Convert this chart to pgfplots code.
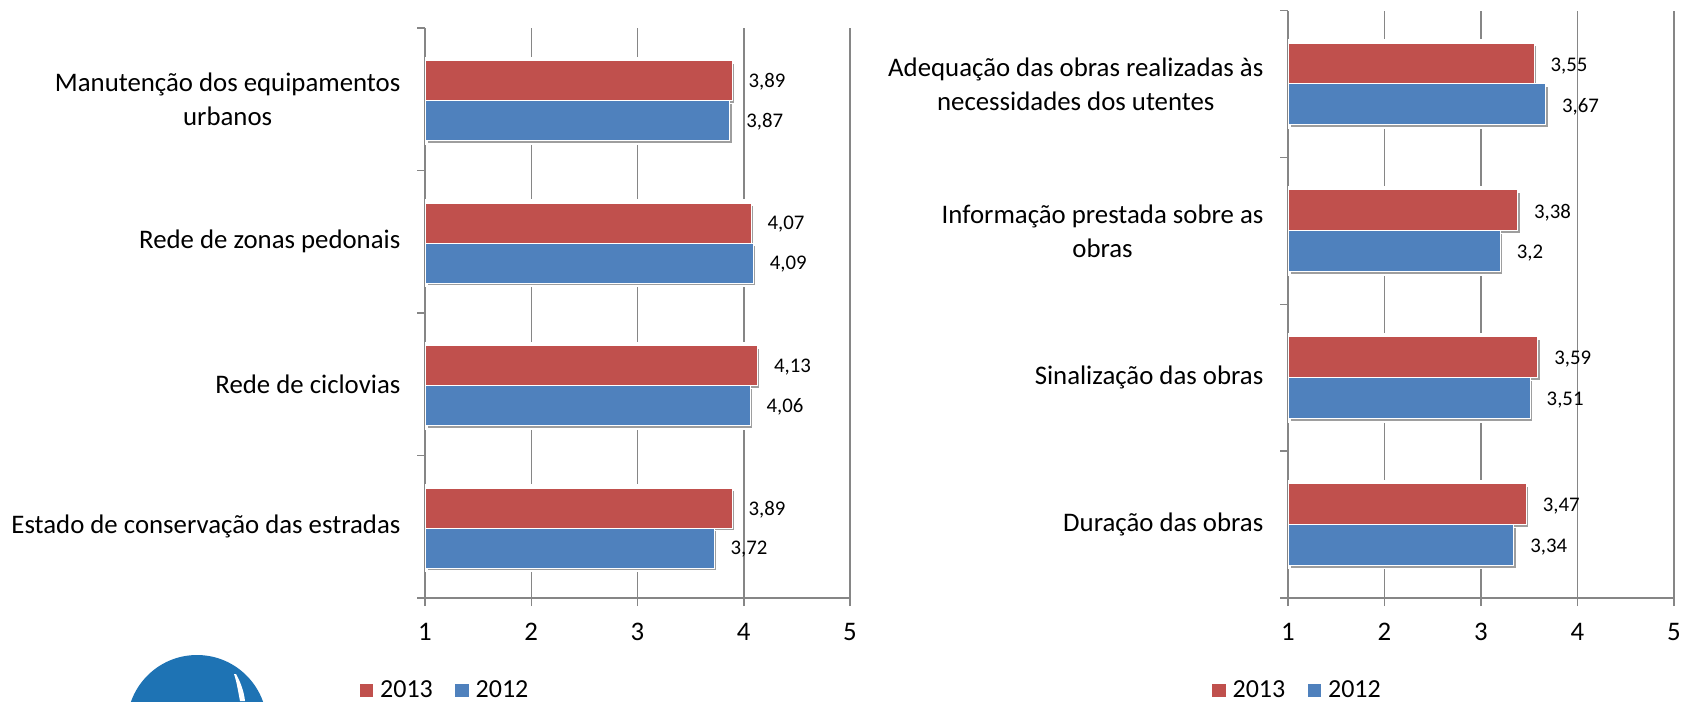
\documentclass[border=0pt]{standalone}
\usepackage{pgfplots}
\pgfplotsset{compat=1.18}
\usepackage{fontspec}
\setmainfont{Carlito}
\usetikzlibrary{shadows}
\definecolor{barred}{HTML}{C0504D}
\definecolor{barblue}{HTML}{4F81BD}
\definecolor{axgray}{HTML}{868686}
\pgfplotstableread{
pos y2013 y2012
0 3.89 3.72
1 4.13 4.06
2 4.07 4.09
3 3.89 3.87
}\lefttable
\pgfplotstableread{
pos y2013 y2012
0 3.47 3.34
1 3.59 3.51
2 3.38 3.2
3 3.55 3.67
}\righttable
\pgfplotsset{
  chart/.style={
    scale only axis,
    xmin=1,xmax=5,ymin=-0.5,ymax=3.5,
    xbar,
    axis x line*=bottom,
    axis y line*=left,
    axis line style={draw=axgray,line width=0.75pt,-},
    xmajorgrids,
    grid style={draw=axgray,line width=0.75pt},
    tick style={draw=axgray,line width=0.75pt},
    major tick length=4pt,
    tick align=outside,
    xtick={1,2,3,4,5},
    ytick={-0.5,0.5,1.5,2.5,3.5},
    yticklabels={},
    extra y tick style={tick style={draw=none},yticklabel style={align=center,font=\fontsize{13.4}{17}\selectfont,xshift=-4.8pt}},
    tick label style={font=\fontsize{13.4}{16}\selectfont},
    xticklabel style={yshift=-5.2pt},
    point meta=x,
    /pgf/number format/use comma,
    /pgf/number format/assume math mode=true,
    every node near coord/.append style={anchor=west,inner sep=0pt,xshift=8pt,font=\fontsize{10.4}{12}\selectfont,text=black},
    legend columns=2,
    legend cell align=left,
    legend style={draw=none,fill=none,inner sep=0pt,anchor=west,font=\fontsize{13}{15}\selectfont,
      /tikz/column 1/.style={column sep=1.5pt},
      /tikz/column 3/.style={column sep=1.5pt},
      /tikz/column 2/.style={column sep=9.3pt}},
  },
  halo/.style={xbar,draw=white,line width=4pt,fill=white,forget plot},
  barstyle/.style={draw=white,line width=0.5pt,fill=#1,forget plot,
    general shadow={shadow xshift=1.2pt,shadow yshift=-1.3pt,fill=black!38},
    nodes near coords},
  legred/.style={legend image code/.code={\fill[barred] (0pt,-3.1pt) rectangle (6.2pt,3.1pt);}},
  legblue/.style={legend image code/.code={\fill[barblue] (0pt,-3.1pt) rectangle (6.2pt,3.1pt);}},
}
\begin{document}
\begin{tikzpicture}
\path[use as bounding box] (0pt,0pt) rectangle (845pt,350.5pt);
% logo
\begin{scope}[x=0.5pt,y=0.5pt]
\clip (0,0) rectangle (1690,701);
\fill[color={rgb,255:red,30;green,115;blue,180}] (197,-24) circle [radius=70];
\fill[white] (234,27) .. controls (237,18) and (238,10) .. (240,0) -- (245,0) .. controls (244,10) and (240,20) .. (236,27) -- cycle;
\end{scope}
\begin{axis}[chart,at={(212.5pt,51.5pt)},anchor=south west,width=212.5pt,height=285pt,
  extra y ticks={0,1,2,3},
  extra y tick labels={Estado de conservação das estradas,Rede de ciclovias,Rede de zonas pedonais,{Manutenção dos equipamentos\\urbanos}},
  legend style={at={(-0.154,-0.162)}},
  every node near coord/.append style={yshift=-0.5pt},
  bar width=20pt]
\addplot[halo,bar shift=9.2pt] table[x=y2013,y=pos]{\lefttable};
\addplot[halo,bar shift=-10.8pt] table[x=y2012,y=pos]{\lefttable};
\addplot[barstyle=barred,bar shift=9.2pt] table[x=y2013,y=pos]{\lefttable};
\addplot[barstyle=barblue,bar shift=-10.8pt] table[x=y2012,y=pos]{\lefttable};
\addlegendimage{legred}
\addlegendentry{2013}
\addlegendimage{legblue}
\addlegendentry{2012}
\end{axis}
\begin{axis}[chart,at={(644pt,51.5pt)},anchor=south west,width=193pt,height=293.7pt,
  extra y ticks={0,1,2,3},
  extra y tick labels={Duração das obras,Sinalização das obras,{Informação prestada sobre as\\obras},{Adequação das obras realizadas às\\necessidades dos utentes}},
  legend style={at={(-0.197,-0.157)}},
  every node near coord/.append style={yshift=-1pt},
  bar width=20.5pt]
\addplot[halo,bar shift=10.2pt] table[x=y2013,y=pos]{\righttable};
\addplot[halo,bar shift=-10.2pt] table[x=y2012,y=pos]{\righttable};
\addplot[barstyle=barred,bar shift=10.2pt] table[x=y2013,y=pos]{\righttable};
\addplot[barstyle=barblue,bar shift=-10.2pt] table[x=y2012,y=pos]{\righttable};
\addlegendimage{legred}
\addlegendentry{2013}
\addlegendimage{legblue}
\addlegendentry{2012}
\end{axis}
\end{tikzpicture}
\end{document}
